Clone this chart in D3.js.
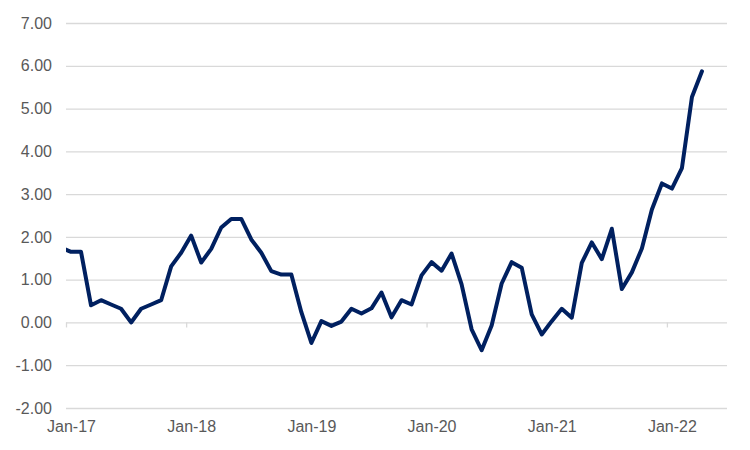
<!DOCTYPE html>
<html lang="en">
    <head>
        <meta charset="utf-8">
        <title>Monthly line chart</title>
        <script type="text/javascript" src="https://cdn.jsdelivr.net/npm/d3@7"></script>
        <style type="text/css">
            body { margin: 0; background: #fff; }
            text { font-family: "Liberation Sans", Arial, sans-serif; }
        </style>
    </head>

    <body>
        <script type="text/javascript">
            // Months from Dec-16 (clipped off the left edge) to Apr-22
            var months = d3.utcMonth.range(new Date(Date.UTC(2016, 11, 1)), new Date(Date.UTC(2022, 4, 1)));
            var values = [ 1.75,
                           1.65, 1.65, 0.40, 0.52, 0.42, 0.32, 0.00, 0.32, 0.42, 0.52, 1.31, 1.63,
                           2.03, 1.40, 1.72, 2.22, 2.42, 2.42, 1.94, 1.63, 1.20, 1.12, 1.12, 0.24,
                           -0.48, 0.03, -0.08, 0.02, 0.32, 0.21, 0.33, 0.70, 0.12, 0.52, 0.42, 1.10,
                           1.41, 1.21, 1.61, 0.89, -0.16, -0.65, -0.07, 0.91, 1.41, 1.28, 0.19, -0.28,
                           0.03, 0.32, 0.11, 1.39, 1.87, 1.48, 2.19, 0.78, 1.17, 1.73, 2.64, 3.25,
                           3.13, 3.61, 5.27, 5.87 ];
            var yTicks = [ -2, -1, 0, 1, 2, 3, 4, 5, 6, 7 ];
            var xTickLabels = [ "Jan-17", "Jan-18", "Jan-19", "Jan-20", "Jan-21", "Jan-22" ];

            var w = 750;
            var h = 450;
            var plotLeft = 66, plotRight = 727, plotTop = 23, plotBottom = 408;

            // month offset from Jan-17, points sit in the middle of each month
            function monthIndex(d) {
                return (d.getUTCFullYear() - 2017) * 12 + d.getUTCMonth();
            }

            var x = d3.scaleLinear().domain([0, 66]).range([plotLeft, plotRight]);
            var y = d3.scaleLinear().domain([-2, 7]).range([plotBottom, plotTop]);

            var svg = d3.select("body")
                        .append("svg")
                        .attr("width", w)
                        .attr("height", h);

            svg.append("defs").append("clipPath")
                .attr("id", "plot")
                .append("rect")
                .attr("x", plotLeft)
                .attr("y", 0)
                .attr("width", plotRight - plotLeft)
                .attr("height", h);

            // gridlines + value labels
            var yAxis = svg.append("g")
                .attr("transform", "translate(" + plotLeft + ",0)")
                .call(d3.axisLeft(y)
                    .tickValues(yTicks)
                    .tickSize(-(plotRight - plotLeft))
                    .tickPadding(14)
                    .tickFormat(function(d) { return d.toFixed(2); }));
            yAxis.select(".domain").remove();
            yAxis.selectAll("line").attr("stroke", "#d9d9d9").attr("stroke-width", 1.3);
            yAxis.selectAll("text")
                .attr("fill", "#595959")
                .attr("font-size", "16px");

            // tick marks on the zero line at each January
            var yearTicks = xTickLabels.map(function(d, i) { return i * 12; });
            var zeroAxis = svg.append("g")
                .attr("transform", "translate(0," + y(0) + ")")
                .call(d3.axisBottom(x).tickValues(yearTicks).tickSize(5).tickFormat(""));
            zeroAxis.select(".domain").remove();
            zeroAxis.selectAll("line").attr("stroke", "#d9d9d9").attr("stroke-width", 1.3);

            // category labels along the bottom
            var labelAxis = svg.append("g")
                .attr("transform", "translate(0," + plotBottom + ")")
                .call(d3.axisBottom(x)
                    .tickValues(yearTicks.map(function(d) { return d + 0.5; }))
                    .tickSize(0)
                    .tickPadding(13)
                    .tickFormat(function(d, i) { return xTickLabels[i]; }));
            labelAxis.select(".domain").remove();
            labelAxis.selectAll("text")
                .attr("fill", "#595959")
                .attr("font-size", "16px");

            var line = d3.line()
                .x(function(d, i) { return x(monthIndex(months[i]) + 0.5); })
                .y(function(d) { return y(d); });

            svg.append("path")
                .datum(values)
                .attr("clip-path", "url(#plot)")
                .attr("d", line)
                .attr("fill", "none")
                .attr("stroke", "#002060")
                .attr("stroke-width", 4)
                .attr("stroke-linejoin", "round")
                .attr("stroke-linecap", "round");
        </script>
    </body>
</html>
